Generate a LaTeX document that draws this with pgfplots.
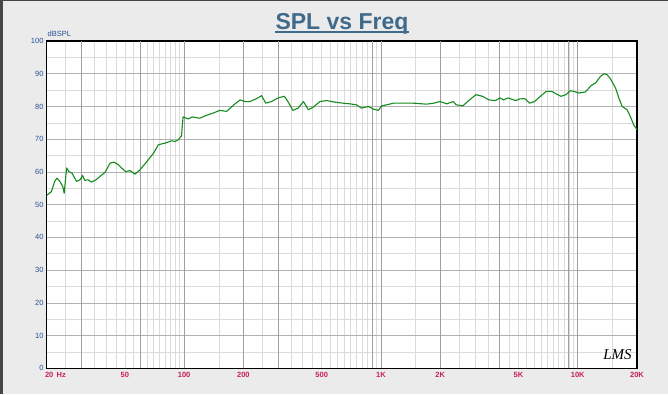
\documentclass[border=0pt]{standalone}
\usepackage{fontspec}
\setmainfont{Liberation Sans}
\newfontfamily\hand{Liberation Serif}
\usepackage{pgfplots}
\pgfplotsset{compat=1.18}
\definecolor{bg}{RGB}{235,235,235}
\definecolor{edge}{RGB}{70,70,70}
\definecolor{titlec}{RGB}{64,106,138}
\definecolor{ylab}{RGB}{40,80,150}
\definecolor{xlab}{RGB}{200,30,90}
\definecolor{curve}{RGB}{20,140,30}
\pgfplotstableread{
f db
20 52.8
21.2 54.0
22.0 57.1
22.6 58.1
23.4 57.1
24.2 55.5
24.6 53.5
25.3 61.2
26.0 60.1
27.0 59.6
28.4 57.1
29.6 57.6
30.5 58.9
31.3 57.4
32.5 57.6
33.8 56.9
35.7 57.6
38.2 59.1
39.6 59.8
42.1 62.7
44.0 63.0
46.1 62.3
48.0 61.3
50.4 60.1
53.2 60.4
56.3 59.3
59.6 60.6
64.8 63.2
69.9 65.7
74.0 68.3
80.0 68.8
86.5 69.5
89.9 69.3
93.5 69.8
97.0 71.0
98.8 76.8
105 76.2
110 76.8
120 76.4
130 77.3
140.6 78.0
152 78.8
164.5 78.5
181.4 80.8
192.6 82.0
203.9 81.5
216 81.5
233.6 82.4
247.6 83.3
260 81.0
278 81.5
300 82.6
323 83.1
337 81.5
357 78.8
380 79.5
404 81.5
428 79.0
453 79.8
490 81.5
530 81.8
585 81.3
644 81.0
695 80.8
752 80.5
797 79.5
863 80.0
915 79.2
971 78.8
1008 80.2
1069 80.5
1158 81.0
1464 81.0
1708 80.7
1850 81.0
2000 81.5
2160 80.8
2330 81.5
2415 80.5
2610 80.2
2816 82.0
3040 83.6
3281 83.1
3540 82.0
3820 81.8
4030 82.6
4190 82.0
4430 82.6
4840 81.8
5080 82.3
5380 82.4
5700 81.0
6030 81.5
6400 82.9
6910 84.6
7380 84.6
7900 83.6
8220 83.1
8700 83.6
9180 84.8
9560 84.6
10100 84.1
10900 84.4
11200 85.1
11640 86.3
12320 87.2
13060 89.2
13580 90.0
14100 89.7
14680 88.4
15560 85.6
16170 82.6
16800 80.0
17810 79.0
18510 76.9
19240 74.4
20000 72.9
}\spl
\begin{document}
\begin{tikzpicture}
\path[use as bounding box] (-46.5pt,-25.7pt) rectangle (621.5pt,368.3pt);
\fill[bg] (-46.5pt,-25.7pt) rectangle (621.5pt,368.3pt);
\fill[edge] (-46.5pt,-25.7pt) rectangle (-43.7pt,368.3pt);
\fill[edge] (-46.5pt,367.3pt) rectangle (621.5pt,368.3pt);
\begin{axis}[
  at={(0pt,0pt)}, anchor=south west,
  scale only axis, width=590.5pt, height=327.3pt,
  xmode=log, xmin=20, xmax=20000, ymin=0, ymax=100,
  axis background/.style={fill=white},
  axis line style={black, line width=1.1pt},
  major tick length=0pt, minor tick length=0pt,
  xtick={20,50,100,200,500,1000,2000,5000,10000,20000},
  xticklabels={\makebox[0pt][l]{\hspace*{-1.5pt}20\hspace{0.45em}Hz},50,100,200,500,1K,2K,5K,10K,20K},
  minor xtick={25,30,...,95,150,200,...,950,1500,2000,...,9500,15000},
  xminorgrids, xmajorgrids=false,
  minor x grid style={gray!28, line width=0.5pt},
  extra x ticks={30,60,100,200,300,900,1000,2000,4000,9000,10000},
  extra x tick labels={},
  extra x tick style={grid=major, major grid style={gray!75, line width=0.6pt}, major tick length=0pt},
  ytick={0,10,...,100},
  yticklabels={0,10,20,30,40,50,60,70,80,90,100},
  minor ytick={5,15,...,95},
  ymajorgrids, yminorgrids,
  major y grid style={gray!60, line width=0.6pt},
  minor y grid style={gray!28, line width=0.5pt},
  xticklabel style={font=\fontsize{7.5}{8}\selectfont\bfseries, text=xlab, yshift=-0.5pt},
  yticklabel style={font=\fontsize{7.5}{8}\selectfont, text=ylab, xshift=0.5pt},
]
\addplot[curve, line width=1.1pt, line join=round] table[x=f, y=db] {\spl};
\end{axis}
\node[anchor=base, font=\fontsize{23}{26}\selectfont\bfseries, text=titlec, inner sep=0pt] (t) at (295.5pt,338.8pt) {SPL vs Freq};
\draw[titlec, line width=2pt] ([yshift=-3pt]t.base west) -- ([yshift=-3pt]t.base east);
\node[anchor=base west, font=\fontsize{7.5}{8}\selectfont, text=ylab, inner sep=0pt] at (1pt,331.8pt) {dBSPL};
\node[font=\hand\fontsize{15}{15}\selectfont\itshape, inner sep=0pt] at (571pt,14pt) {LMS};
\end{tikzpicture}
\end{document}
